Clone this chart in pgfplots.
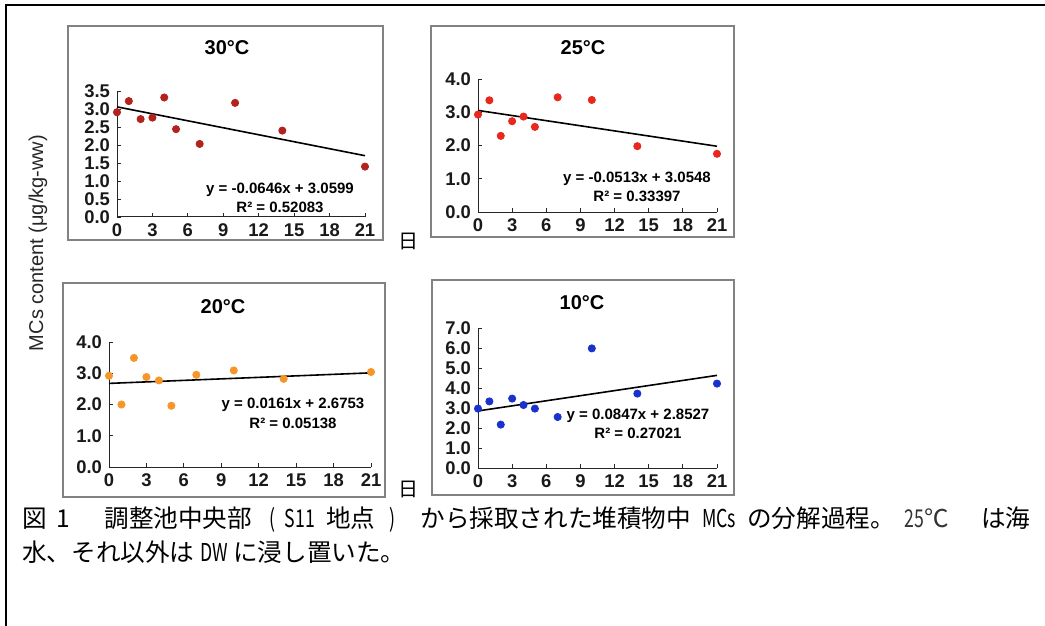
\documentclass[border=0pt]{standalone}
\usepackage{graphicx}
\usepackage{pgfplots}
\pgfplotsset{compat=1.18}
\usepackage{fontspec}
\setmainfont{Liberation Sans}
\newfontfamily\cjk{Noto Sans CJK JP}
\definecolor{cA}{RGB}{178,34,30}
\definecolor{cB}{RGB}{232,40,30}
\definecolor{cC}{RGB}{246,150,40}
\definecolor{cD}{RGB}{25,50,205}
\definecolor{frm}{RGB}{130,130,130}
\newcommand\nar[1]{\scalebox{0.72}[1]{#1}}
\newcommand\g[1]{\hskip 1pt plus #1fil\relax}
\pgfplotsset{panel/.style={
  scale only axis, clip=false,
  axis x line*=bottom, axis y line*=left,
  axis line style={-, black!85, line width=0.5pt},
  xmin=0, xmax=21, xtick={0,3,...,21}, ymin=0,
  tick align=inside, major tick length=2pt,
  tick style={black!85, line width=0.4pt},
  ticklabel style={font=\bfseries\fontsize{9.2}{9.5}\selectfont, text=black!90},
  /pgf/number format/assume math mode=true,
  yticklabel style={/pgf/number format/.cd, fixed, fixed zerofill, precision=1},
  anchor=south west,
}}
\tikzset{ttl/.style={font=\bfseries\fontsize{10}{11}\selectfont},
  eq/.style={font=\bfseries\fontsize{7.5}{8.5}\selectfont, inner sep=0pt},
  pt/.style={only marks, mark=*, mark size=1.8pt}}
\begin{document}
\begin{tikzpicture}[x=1pt,y=1pt]
\useasboundingbox (0,0) rectangle (522.5,-313);
\draw[line width=1.1pt] (3,-320) -- (3,-2.5) -- (530,-2.5);
% panel frames
\draw[frm, line width=0.6pt] (34,-13) rectangle (191.5,-120);
\draw[frm, line width=0.6pt] (215.5,-13) rectangle (367,-118.5);
\draw[frm, line width=0.6pt] (31.5,-141.5) rectangle (192.5,-248.5);
\draw[frm, line width=0.6pt] (216,-140) rectangle (367,-247.5);
% 30C
\begin{axis}[panel, at={(58.5pt,-108.5pt)}, width=124pt, height=63pt,
  ymax=3.5, ytick={0,0.5,1,1.5,2,2.5,3,3.5}]
\addplot[pt, color=cA] coordinates {(0,2.91)(1,3.22)(2,2.72)(3,2.76)(4,3.32)(5,2.44)(7,2.03)(10,3.17)(14,2.40)(21,1.40)};
\addplot[black, line width=0.8pt] coordinates {(0,3.0599)(21,1.7033)};
\end{axis}
% 25C
\begin{axis}[panel, at={(239pt,-106pt)}, width=119.5pt, height=66.5pt,
  ymax=4, ytick={0,1,2,3,4}]
\addplot[pt, color=cB] coordinates {(0,2.93)(1,3.36)(2,2.29)(3,2.73)(4,2.87)(5,2.56)(7,3.45)(10,3.37)(14,1.98)(21,1.75)};
\addplot[black, line width=0.8pt] coordinates {(0,3.0548)(21,1.9775)};
\end{axis}
% 20C
\begin{axis}[panel, at={(54.5pt,-233.5pt)}, width=131pt, height=62.5pt,
  ymax=4, ytick={0,1,2,3,4}]
\addplot[pt, color=cC] coordinates {(0,2.92)(1,2.00)(2,3.49)(3,2.88)(4,2.77)(5,1.96)(7,2.95)(10,3.09)(14,2.82)(21,3.04)};
\addplot[black, line width=0.8pt] coordinates {(0,2.6753)(21,3.0134)};
\end{axis}
% 10C
\begin{axis}[panel, at={(239pt,-234pt)}, width=119.5pt, height=70pt,
  ymax=7, ytick={0,1,2,3,4,5,6,7}]
\addplot[pt, color=cD] coordinates {(0,2.97)(1,3.33)(2,2.17)(3,3.47)(4,3.15)(5,2.97)(7,2.55)(10,5.98)(14,3.72)(21,4.22)};
\addplot[black, line width=0.8pt] coordinates {(0,2.8527)(21,4.6314)};
\end{axis}
% titles
\node[ttl] at (113.5,-24) {30°C};
\node[ttl] at (291.5,-24) {25°C};
\node[ttl] at (111.5,-153.5) {20°C};
\node[ttl] at (291,-151.5) {10°C};
% equations
\node[eq] at (140,-95) {y = -0.0646x + 3.0599};
\node[eq] at (140,-103.5) {R² = 0.52083};
\node[eq] at (318.5,-89.5) {y = -0.0513x + 3.0548};
\node[eq] at (318.5,-98) {R² = 0.33397};
\node[eq] at (146.5,-202.5) {y = 0.0161x + 2.6753};
\node[eq] at (146.5,-211.5) {R² = 0.05138};
\node[eq] at (319,-208) {y = 0.0847x + 2.8527};
\node[eq] at (319,-216.5) {R² = 0.27021};
% day labels
\node[font=\cjk\fontsize{10}{11}\selectfont] at (204,-120.5) {日};
\node[font=\cjk\fontsize{10}{11}\selectfont] at (204,-244.5) {日};
% y label
\node[rotate=90, font=\fontsize{10}{12}\selectfont, text=black!85] at (19,-121.5) {MCs content (μg/kg-ww)};
% caption
\node[anchor=west, inner sep=0pt, font=\cjk\fontsize{12.3}{14}\selectfont] at (11,-260) {\makebox[504pt][s]{図\g{0.5}1\g{0.5}　調整池中央部\g{1}\nar{(}\g{0.5}\nar{S11}\g{0.6}地点\g{0.8}\nar{)}\g{1.5}から採取された堆積物中\g{0.6}\nar{MCs}\g{0.6}の分解過程。\g{0.5}{\color{black!80}\nar{25}℃}\g{2}は海}};
\node[anchor=west, inner sep=0pt, font=\cjk\fontsize{12.3}{14}\selectfont] at (11,-276) {水、それ以外は \nar{DW} に浸し置いた。};
\end{tikzpicture}
\end{document}
